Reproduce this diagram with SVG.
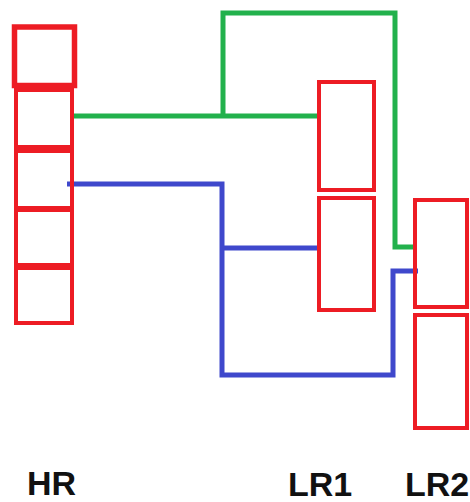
<svg xmlns="http://www.w3.org/2000/svg" width="470" height="502" viewBox="0 0 470 502">
<style>
.box{fill:none;stroke:#ed1c24;stroke-width:4}
.g{fill:none;stroke:#22b14c;stroke-width:5}
.b{fill:none;stroke:#3f48cc;stroke-width:5}
.lbl{font-family:"Liberation Sans",Arial,sans-serif;font-weight:bold;font-size:34px;fill:#111}
</style>
<rect width="470" height="502" fill="#fff"/>
<g id="connectors">
<polyline class="g" points="72,116 318,116"/>
<polyline class="g" points="223,116 223,13 395,13 395,247 415,247"/>
<polyline class="b" points="67,184 222,184 222,375 393,375 393,271 418,271"/>
<polyline class="b" points="222,248 318,248"/>
</g>
<g id="HR">
<rect class="box" x="14.5" y="27" width="60" height="58.5" style="stroke-width:5.5"/>
<rect class="box" x="16" y="90" width="56" height="57"/>
<rect class="box" x="16" y="151" width="56" height="57"/>
<rect class="box" x="16" y="210" width="56" height="55"/>
<rect class="box" x="16" y="268" width="56" height="55"/>
<text class="lbl" x="27" y="495">HR</text>
</g>
<g id="LR1">
<rect class="box" x="319" y="82" width="55" height="108"/>
<rect class="box" x="319" y="198" width="55" height="112"/>
<text class="lbl" x="288" y="496">LR1</text>
</g>
<g id="LR2">
<rect class="box" x="415" y="200" width="52" height="107"/>
<rect class="box" x="415" y="315" width="52" height="113"/>
<text class="lbl" x="405" y="496">LR2</text>
</g>
</svg>
